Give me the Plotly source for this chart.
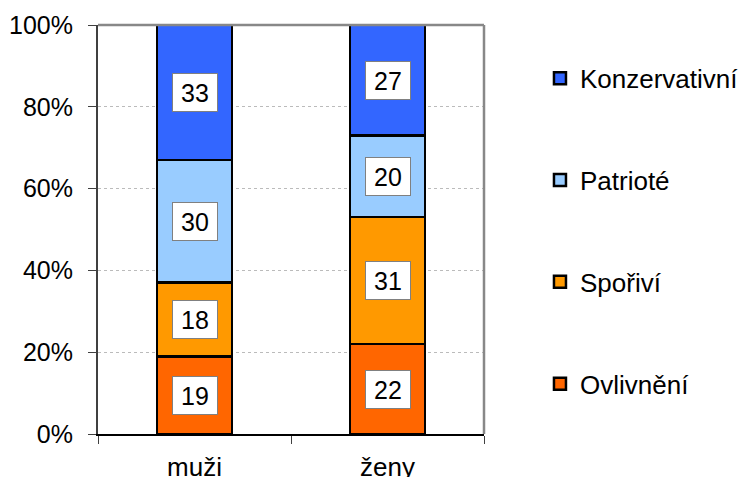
import plotly.graph_objects as go

categories = ["muži", "ženy"]
series_names = ["Ovlivnění", "Spořiví", "Patrioté", "Konzervativní"]
ovlivneni = [19, 22]
sporivi = [18, 31]
patriote = [30, 20]
konzervativni = [33, 27]
colors = ["#FF6600", "#FF9900", "#99CCFF", "#3366FF"]
y_ticks = [0, 20, 40, 60, 80, 100]
y_tick_labels = ["0%", "20%", "40%", "60%", "80%", "100%"]

series_values = [ovlivneni, sporivi, patriote, konzervativni]
FONT = "Liberation Sans, Arial, sans-serif"

fig = go.Figure()
n = len(series_names)
for i, (name, vals, col) in enumerate(zip(series_names, series_values, colors)):
    fig.add_trace(go.Bar(
        x=categories, y=vals, name=name, legendgroup=name,
        legendrank=n - i,
        marker=dict(color=col, line=dict(color="black", width=2.5)),
        width=0.39,
    ))

annotations = []
cum = [0] * len(categories)
for vals in series_values:
    for j, v in enumerate(vals):
        annotations.append(dict(
            x=categories[j], y=cum[j] + v / 2, xref="x", yref="y",
            text=str(v), showarrow=False,
            font=dict(family=FONT, size=25, color="black"),
            bgcolor="white", bordercolor="#808080", borderwidth=1,
            width=44, height=37, borderpad=0,
        ))
        cum[j] += v

fig.update_layout(
    barmode="stack",
    width=741, height=477,
    margin=dict(l=98, r=257, t=25, b=43, autoexpand=False),
    paper_bgcolor="white", plot_bgcolor="white",
    font=dict(family=FONT, size=25, color="black"),
    showlegend=True,
    legend=dict(
        x=1.145, xanchor="left", y=0.927, yanchor="top",
        traceorder="grouped", tracegroupgap=65,
        font=dict(family=FONT, size=26, color="black"),
        itemwidth=30,
    ),
    bargap=0.61,
    annotations=annotations,
    xaxis=dict(
        type="category", showgrid=False, zeroline=False, automargin=False,
        showline=True, linecolor="black", linewidth=2,
        ticks="outside", tickson="boundaries", ticklen=8, tickcolor="#404040",
        tickfont=dict(family=FONT, size=26), ticklabelstandoff=9,
        range=[-0.5, 1.5],
    ),
    yaxis=dict(
        range=[0, 100], tickvals=y_ticks, ticktext=y_tick_labels, automargin=False,
        showgrid=True, gridcolor="#BBBBBB", griddash="dot", gridwidth=1,
        zeroline=False, showline=True, linecolor="#404040", linewidth=2,
        ticks="outside", ticklen=8, tickcolor="#404040",
        tickfont=dict(family=FONT, size=25), ticklabelstandoff=10,
    ),
    shapes=[
        dict(type="line", xref="paper", yref="paper", x0=0, x1=1, y0=1, y1=1,
             line=dict(color="#888888", width=2.5), layer="above"),
        dict(type="line", xref="paper", yref="paper", x0=1, x1=1, y0=0, y1=1,
             line=dict(color="#888888", width=2.5), layer="above"),
    ],
)

fig.write_html(
    "out.html",
    config={"displayModeBar": False},
    post_script="document.body.style.margin='0';document.body.style.overflow='hidden';",
)
